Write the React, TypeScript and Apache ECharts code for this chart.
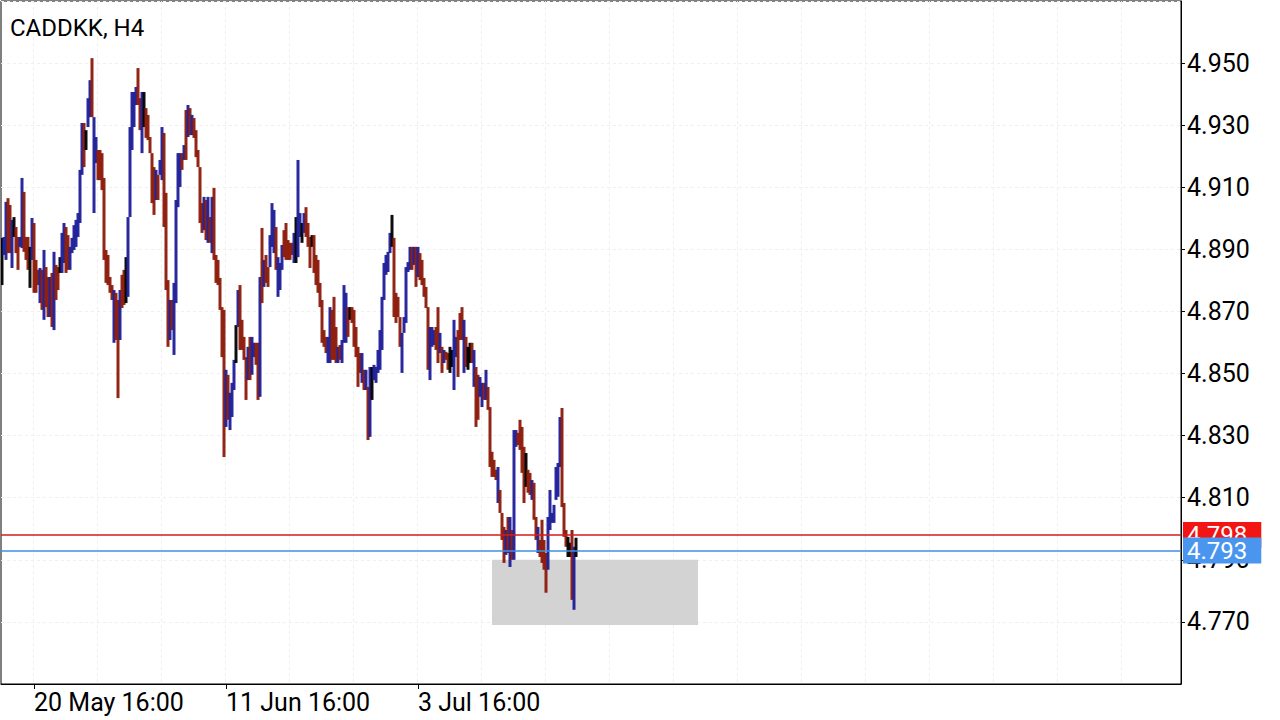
import React, { useEffect, useRef } from "react";
import * as echarts from "echarts";

// ---------- data (4-hour bars, CADDKK) ----------
const symbolTitle = "CADDKK, H4";
const firstBarUtc = Date.UTC(2020, 4, 18, 0, 0); // first bar on the chart
const slotCount = 590; // bar slots across the plot (incl. empty future)
const shownTimeLabels = ["20 May 16:00", "11 Jun 16:00", "3 Jul 16:00"];
const monthNames = ["Jan", "Feb", "Mar", "Apr", "May", "Jun", "Jul", "Aug", "Sep", "Oct", "Nov", "Dec"];

const highs = [
  4.8937, 4.8940, 4.9053, 4.9065, 4.9043, 4.8995, 4.9004, 4.8972, 4.8940, 4.8940,
  4.9130, 4.9085, 4.8940, 4.8940, 4.8908, 4.9001, 4.8985, 4.8866, 4.8834, 4.8840,
  4.8834, 4.8898, 4.8843, 4.8811, 4.8811, 4.8824, 4.8892, 4.8850, 4.8843, 4.8875,
  4.8953, 4.8985, 4.8972, 4.8946, 4.8908, 4.8937, 4.8978, 4.8995, 4.9017, 4.9156,
  4.9307, 4.9307, 4.9284, 4.9387, 4.9445, 4.9516, 4.9326, 4.9262, 4.9220, 4.9220,
  4.9210, 4.9130, 4.8898, 4.8882, 4.8811, 4.8785, 4.8769, 4.8760, 4.8737, 4.8769,
  4.8818, 4.8834, 4.8875, 4.9004, 4.9294, 4.9407, 4.9407, 4.9423, 4.9484, 4.9387,
  4.9407, 4.9407, 4.9355, 4.9333, 4.9262, 4.9210, 4.9165, 4.9156, 4.9140, 4.9188,
  4.9294, 4.9275, 4.9082, 4.8801, 4.8737, 4.8737, 4.8792, 4.9059, 4.9210, 4.9210,
  4.9210, 4.9236, 4.9349, 4.9365, 4.9355, 4.9333, 4.9323, 4.9284, 4.9220, 4.9165,
  4.9049, 4.9069, 4.9059, 4.9069, 4.9004, 4.9069, 4.9098, 4.8882, 4.8866, 4.8808,
  4.8714, 4.8705, 4.8512, 4.8496, 4.8438, 4.8470, 4.8544, 4.8656, 4.8769, 4.8785,
  4.8673, 4.8618, 4.8553, 4.8586, 4.8618, 4.8618, 4.8599, 4.8599, 4.8599, 4.8811,
  4.8969, 4.8866, 4.8882, 4.8843, 4.8946, 4.9049, 4.9027, 4.8972, 4.8875, 4.8856,
  4.8914, 4.8962, 4.8985, 4.8930, 4.8921, 4.8921, 4.8953, 4.9004, 4.9188, 4.9017,
  4.8985, 4.9017, 4.9036, 4.8985, 4.8940, 4.8946, 4.8946, 4.8882, 4.8866, 4.8792,
  4.8737, 4.8640, 4.8618, 4.8618, 4.8714, 4.8705, 4.8747, 4.8650, 4.8586, 4.8592,
  4.8608, 4.8785, 4.8760, 4.8714, 4.8714, 4.8714, 4.8705, 4.8650, 4.8586, 4.8566,
  4.8566, 4.8512, 4.8512, 4.8457, 4.8521, 4.8521, 4.8528, 4.8521, 4.8576, 4.8640,
  4.8747, 4.8856, 4.8882, 4.8892, 4.8953, 4.9011, 4.8937, 4.8760, 4.8747, 4.8682,
  4.8631, 4.8682, 4.8843, 4.8859, 4.8908, 4.8908, 4.8908, 4.8908, 4.8908, 4.8888,
  4.8866, 4.8808, 4.8779, 4.8714, 4.8650, 4.8650, 4.8640, 4.8650, 4.8714, 4.8631,
  4.8586, 4.8576, 4.8570, 4.8566, 4.8586, 4.8576, 4.8673, 4.8618, 4.8640, 4.8695,
  4.8714, 4.8673, 4.8618, 4.8586, 4.8599, 4.8599, 4.8576, 4.8521, 4.8496, 4.8489,
  4.8470, 4.8470, 4.8512, 4.8457, 4.8392, 4.8248, 4.8222, 4.8190, 4.8199, 4.8125,
  4.8051, 4.8006, 4.7996, 4.8038, 4.8038, 4.7996, 4.8318, 4.8318, 4.8309, 4.8351,
  4.8328, 4.8264, 4.8244, 4.8190, 4.8180, 4.8157, 4.8148, 4.8038, 4.8006, 4.7964,
  4.8029, 4.7964, 4.7922, 4.8038, 4.8125, 4.8051, 4.8077, 4.8199, 4.8212, 4.8360,
  4.8389, 4.8083, 4.7996, 4.7974, 4.7955, 4.7996, 4.7942, 4.7971,
];

const lows = [
  4.8785, 4.8882, 4.8866, 4.8888, 4.8888, 4.8840, 4.8940, 4.8888, 4.8834, 4.8908,
  4.8904, 4.8892, 4.8866, 4.8834, 4.8776, 4.8866, 4.8760, 4.8760, 4.8785, 4.8727,
  4.8705, 4.8673, 4.8714, 4.8682, 4.8682, 4.8650, 4.8640, 4.8737, 4.8769, 4.8824,
  4.8824, 4.8856, 4.8824, 4.8834, 4.8834, 4.8888, 4.8898, 4.8908, 4.8940, 4.8985,
  4.9140, 4.9165, 4.9220, 4.9294, 4.9326, 4.9326, 4.9017, 4.9178, 4.9123, 4.9123,
  4.9091, 4.8866, 4.8792, 4.8785, 4.8760, 4.8737, 4.8599, 4.8608, 4.8421, 4.8608,
  4.8711, 4.8721, 4.8727, 4.8747, 4.9004, 4.9220, 4.9294, 4.9365, 4.9365, 4.9284,
  4.9210, 4.9294, 4.9259, 4.9252, 4.9210, 4.9049, 4.9011, 4.9059, 4.9059, 4.9140,
  4.9123, 4.8972, 4.8769, 4.8586, 4.8608, 4.8640, 4.8560, 4.8727, 4.9036, 4.9101,
  4.9156, 4.9188, 4.9188, 4.9262, 4.9268, 4.9268, 4.9259, 4.9197, 4.9165, 4.8985,
  4.8953, 4.8962, 4.8930, 4.8921, 4.8921, 4.8888, 4.8866, 4.8792, 4.8785, 4.8705,
  4.8553, 4.8231, 4.8328, 4.8351, 4.8318, 4.8360, 4.8447, 4.8534, 4.8650, 4.8576,
  4.8576, 4.8544, 4.8415, 4.8479, 4.8479, 4.8496, 4.8553, 4.8528, 4.8415, 4.8425,
  4.8727, 4.8779, 4.8792, 4.8779, 4.8843, 4.8908, 4.8888, 4.8834, 4.8747, 4.8769,
  4.8834, 4.8875, 4.8866, 4.8866, 4.8866, 4.8882, 4.8856, 4.8856, 4.8875, 4.8940,
  4.8921, 4.8953, 4.8940, 4.8908, 4.8840, 4.8908, 4.8824, 4.8785, 4.8760, 4.8714,
  4.8599, 4.8586, 4.8566, 4.8534, 4.8534, 4.8544, 4.8544, 4.8534, 4.8534, 4.8544,
  4.8534, 4.8599, 4.8599, 4.8618, 4.8673, 4.8663, 4.8586, 4.8553, 4.8457, 4.8502,
  4.8470, 4.8447, 4.8447, 4.8286, 4.8296, 4.8415, 4.8479, 4.8470, 4.8502, 4.8512,
  4.8576, 4.8737, 4.8818, 4.8827, 4.8888, 4.8908, 4.8682, 4.8663, 4.8682, 4.8586,
  4.8502, 4.8631, 4.8663, 4.8827, 4.8834, 4.8834, 4.8850, 4.8779, 4.8811, 4.8801,
  4.8785, 4.8747, 4.8711, 4.8512, 4.8479, 4.8586, 4.8592, 4.8576, 4.8534, 4.8566,
  4.8502, 4.8534, 4.8544, 4.8512, 4.8502, 4.8521, 4.8447, 4.8553, 4.8489, 4.8608,
  4.8608, 4.8502, 4.8521, 4.8512, 4.8534, 4.8534, 4.8457, 4.8328, 4.8351, 4.8425,
  4.8392, 4.8415, 4.8415, 4.8383, 4.8199, 4.8167, 4.8167, 4.8157, 4.8083, 4.8051,
  4.7964, 4.7890, 4.7916, 4.7922, 4.7877, 4.7900, 4.7900, 4.8264, 4.8270, 4.8254,
  4.8180, 4.8083, 4.8135, 4.8116, 4.8109, 4.8093, 4.8029, 4.7964, 4.7922, 4.7909,
  4.7890, 4.7868, 4.7794, 4.7868, 4.7996, 4.8019, 4.8019, 4.8093, 4.8103, 4.8199,
  4.8070, 4.7974, 4.7942, 4.7909, 4.7909, 4.7771, 4.7739, 4.7909,
];

const opens = [
  4.8860, 4.8882, 4.8866, 4.9065, 4.9043, 4.8840, 4.8970, 4.8972, 4.8940, 4.8908,
  4.8904, 4.9085, 4.8940, 4.8940, 4.8840, 4.8866, 4.8985, 4.8866, 4.8834, 4.8727,
  4.8834, 4.8673, 4.8843, 4.8811, 4.8682, 4.8824, 4.8640, 4.8850, 4.8843, 4.8850,
  4.8824, 4.8856, 4.8972, 4.8946, 4.8834, 4.8888, 4.8898, 4.8908, 4.8940, 4.8985,
  4.9140, 4.9307, 4.9250, 4.9294, 4.9326, 4.9516, 4.9017, 4.9178, 4.9220, 4.9220,
  4.9210, 4.9130, 4.8898, 4.8882, 4.8811, 4.8785, 4.8599, 4.8760, 4.8737, 4.8608,
  4.8818, 4.8834, 4.8800, 4.8747, 4.9004, 4.9220, 4.9294, 4.9365, 4.9484, 4.9387,
  4.9210, 4.9350, 4.9355, 4.9333, 4.9262, 4.9210, 4.9165, 4.9059, 4.9140, 4.9140,
  4.9123, 4.9275, 4.9082, 4.8801, 4.8608, 4.8737, 4.8560, 4.8727, 4.9036, 4.9101,
  4.9210, 4.9188, 4.9349, 4.9262, 4.9355, 4.9268, 4.9323, 4.9284, 4.9220, 4.9165,
  4.9049, 4.8962, 4.9059, 4.8921, 4.9004, 4.8888, 4.9098, 4.8882, 4.8866, 4.8808,
  4.8714, 4.8705, 4.8328, 4.8496, 4.8318, 4.8360, 4.8447, 4.8600, 4.8650, 4.8785,
  4.8673, 4.8618, 4.8553, 4.8479, 4.8618, 4.8496, 4.8553, 4.8599, 4.8599, 4.8425,
  4.8969, 4.8779, 4.8882, 4.8843, 4.8843, 4.8908, 4.8888, 4.8972, 4.8747, 4.8769,
  4.8834, 4.8962, 4.8985, 4.8930, 4.8921, 4.8921, 4.8856, 4.8930, 4.8875, 4.8940,
  4.8950, 4.8953, 4.9036, 4.8985, 4.8940, 4.8925, 4.8946, 4.8882, 4.8866, 4.8792,
  4.8737, 4.8640, 4.8618, 4.8534, 4.8534, 4.8705, 4.8747, 4.8650, 4.8534, 4.8592,
  4.8534, 4.8599, 4.8599, 4.8714, 4.8690, 4.8714, 4.8705, 4.8650, 4.8586, 4.8566,
  4.8470, 4.8512, 4.8447, 4.8457, 4.8296, 4.8470, 4.8479, 4.8470, 4.8502, 4.8512,
  4.8576, 4.8737, 4.8818, 4.8827, 4.8888, 4.8950, 4.8937, 4.8760, 4.8747, 4.8682,
  4.8502, 4.8631, 4.8663, 4.8827, 4.8834, 4.8908, 4.8850, 4.8908, 4.8811, 4.8888,
  4.8866, 4.8808, 4.8779, 4.8714, 4.8479, 4.8586, 4.8592, 4.8650, 4.8714, 4.8566,
  4.8586, 4.8534, 4.8570, 4.8566, 4.8545, 4.8550, 4.8447, 4.8553, 4.8640, 4.8695,
  4.8714, 4.8502, 4.8618, 4.8550, 4.8565, 4.8599, 4.8457, 4.8521, 4.8496, 4.8425,
  4.8392, 4.8470, 4.8415, 4.8457, 4.8392, 4.8248, 4.8222, 4.8190, 4.8083, 4.8125,
  4.8051, 4.8006, 4.7916, 4.8038, 4.7877, 4.7996, 4.7900, 4.8264, 4.8309, 4.8351,
  4.8328, 4.8264, 4.8190, 4.8190, 4.8180, 4.8093, 4.8148, 4.8038, 4.7922, 4.7964,
  4.8029, 4.7964, 4.7922, 4.7868, 4.7996, 4.8019, 4.8019, 4.8093, 4.8103, 4.8199,
  4.8389, 4.8083, 4.7996, 4.7940, 4.7930, 4.7996, 4.7739, 4.7932,
];

const closes = [
  4.8860, 4.8940, 4.9053, 4.8888, 4.8888, 4.8995, 4.8970, 4.8888, 4.8834, 4.8940,
  4.9130, 4.8892, 4.8866, 4.8834, 4.8840, 4.9001, 4.8760, 4.8760, 4.8785, 4.8840,
  4.8705, 4.8898, 4.8714, 4.8682, 4.8811, 4.8650, 4.8892, 4.8737, 4.8769, 4.8850,
  4.8953, 4.8985, 4.8824, 4.8834, 4.8908, 4.8937, 4.8978, 4.8995, 4.9017, 4.9156,
  4.9307, 4.9165, 4.9250, 4.9387, 4.9445, 4.9326, 4.9326, 4.9262, 4.9123, 4.9123,
  4.9091, 4.8866, 4.8792, 4.8785, 4.8760, 4.8737, 4.8769, 4.8608, 4.8421, 4.8769,
  4.8711, 4.8721, 4.8800, 4.9004, 4.9294, 4.9407, 4.9407, 4.9423, 4.9365, 4.9284,
  4.9407, 4.9350, 4.9259, 4.9252, 4.9210, 4.9049, 4.9011, 4.9156, 4.9059, 4.9188,
  4.9294, 4.8972, 4.8769, 4.8586, 4.8737, 4.8640, 4.8792, 4.9059, 4.9210, 4.9210,
  4.9156, 4.9236, 4.9188, 4.9365, 4.9268, 4.9333, 4.9259, 4.9197, 4.9165, 4.8985,
  4.8953, 4.9069, 4.8930, 4.9069, 4.8921, 4.9069, 4.8866, 4.8792, 4.8785, 4.8705,
  4.8553, 4.8231, 4.8512, 4.8351, 4.8438, 4.8470, 4.8544, 4.8600, 4.8769, 4.8576,
  4.8576, 4.8544, 4.8415, 4.8586, 4.8479, 4.8618, 4.8599, 4.8528, 4.8415, 4.8811,
  4.8727, 4.8866, 4.8792, 4.8779, 4.8946, 4.9049, 4.9027, 4.8834, 4.8875, 4.8856,
  4.8914, 4.8875, 4.8866, 4.8866, 4.8866, 4.8882, 4.8953, 4.8930, 4.9188, 4.9017,
  4.8950, 4.9017, 4.8940, 4.8908, 4.8840, 4.8925, 4.8824, 4.8785, 4.8760, 4.8714,
  4.8599, 4.8586, 4.8566, 4.8618, 4.8714, 4.8544, 4.8544, 4.8534, 4.8586, 4.8544,
  4.8608, 4.8785, 4.8760, 4.8618, 4.8690, 4.8663, 4.8586, 4.8553, 4.8457, 4.8502,
  4.8566, 4.8447, 4.8512, 4.8286, 4.8521, 4.8470, 4.8528, 4.8521, 4.8576, 4.8640,
  4.8747, 4.8856, 4.8882, 4.8892, 4.8953, 4.8950, 4.8682, 4.8663, 4.8682, 4.8586,
  4.8631, 4.8682, 4.8843, 4.8859, 4.8908, 4.8834, 4.8908, 4.8779, 4.8908, 4.8801,
  4.8785, 4.8747, 4.8711, 4.8512, 4.8650, 4.8650, 4.8640, 4.8576, 4.8534, 4.8631,
  4.8502, 4.8576, 4.8544, 4.8512, 4.8545, 4.8550, 4.8673, 4.8618, 4.8489, 4.8608,
  4.8608, 4.8673, 4.8521, 4.8550, 4.8565, 4.8534, 4.8576, 4.8328, 4.8351, 4.8489,
  4.8470, 4.8415, 4.8512, 4.8383, 4.8199, 4.8167, 4.8167, 4.8157, 4.8199, 4.8051,
  4.7964, 4.7890, 4.7996, 4.7922, 4.8038, 4.7900, 4.8318, 4.8318, 4.8270, 4.8254,
  4.8180, 4.8083, 4.8190, 4.8116, 4.8109, 4.8157, 4.8029, 4.7964, 4.8006, 4.7909,
  4.7890, 4.7868, 4.7794, 4.8038, 4.8125, 4.8051, 4.8077, 4.8199, 4.8212, 4.8360,
  4.8070, 4.7974, 4.7942, 4.7940, 4.7930, 4.7771, 4.7932, 4.7932,
];

const askPrice = 4.798;
const bidPrice = 4.793;
// grey zone (bar-slot indices and prices)
const zoneStartSlot = 245;
const zoneEndSlot = 348;
const zoneTop = 4.790;
const zoneBottom = 4.769;

const yMin = 4.75;
const yMax = 4.97;
const yStep = 0.02;

// ---------- categories ----------
function buildCategories(): string[] {
  const out: string[] = [];
  let t = firstBarUtc;
  while (out.length < slotCount) {
    const d = new Date(t);
    const wd = d.getUTCDay();
    if (wd !== 0 && wd !== 6) {
      out.push(
        `${d.getUTCDate()} ${monthNames[d.getUTCMonth()]} ${String(d.getUTCHours()).padStart(2, "0")}:00`
      );
    }
    t += 4 * 3600 * 1000;
  }
  return out;
}

const BULL = "#1e1e98";
const BEAR = "#8c1a0a";
const FLAT = "#000000";
const FONT = "Roboto";

export default function App() {
  const ref = useRef<HTMLDivElement>(null);

  useEffect(() => {
    document.body.style.margin = "0";
    if (!ref.current) return;
    const chart = echarts.init(ref.current, undefined, { renderer: "svg" });
    const categories = buildCategories();
    const gridStartIdx = categories.indexOf(shownTimeLabels[0]);
    const barData = highs.map((h, i) => [i, opens[i], h, lows[i], closes[i]]);

    const priceLabel = (bg: string, txt: string) => ({
      show: true,
      position: "end",
      distance: 2,
      formatter: txt,
      color: "#fff",
      backgroundColor: bg,
      fontSize: 24,
      fontFamily: FONT,
      lineHeight: 24,
      padding: [1, 14, 1, 4],
    });

    const option: any = {
      animation: false,
      backgroundColor: "#ffffff",
      title: {
        text: symbolTitle,
        left: 10,
        top: 16,
        padding: 0,
        textStyle: { fontSize: 24, fontWeight: "normal", color: "#000", fontFamily: FONT },
      },
      grid: {
        left: 1,
        top: 1,
        right: 99,
        bottom: 36,
        show: true,
        borderColor: "#000",
        borderWidth: 1,
        backgroundColor: "transparent",
      },
      xAxis: {
        type: "category",
        data: categories,
        boundaryGap: true,
        axisLine: { show: true, lineStyle: { color: "#000", width: 1 } },
        axisTick: {
          show: true,
          alignWithLabel: true,
          length: 5,
          lineStyle: { color: "#000" },
          interval: (_i: number, v: string) => shownTimeLabels.includes(v),
        },
        axisLabel: {
          show: true,
          interval: (_i: number, v: string) => shownTimeLabels.includes(v),
          align: "left",
          margin: 6,
          fontSize: 25,
          fontFamily: FONT,
          color: "#000",
        },
        splitLine: {
          show: true,
          interval: (i: number) => i >= gridStartIdx && (i - gridStartIdx) % 32 === 0,
          lineStyle: { color: "#efefef", type: [3, 3], width: 1 },
        },
      },
      yAxis: {
        type: "value",
        position: "right",
        min: yMin,
        max: yMax,
        interval: yStep,
        axisLine: { show: true, lineStyle: { color: "#000", width: 1 } },
        axisTick: { show: true, length: 4, lineStyle: { color: "#000" } },
        axisLabel: {
          color: "#000",
          fontSize: 25,
          fontFamily: FONT,
          margin: 6,
          showMinLabel: false,
          showMaxLabel: false,
          formatter: (v: number) => v.toFixed(3),
        },
        splitLine: { show: true, lineStyle: { color: "#efefef", type: [3, 3], width: 1 } },
      },
      series: [
        {
          type: "line",
          z: 1,
          data: [],
          silent: true,
          markArea: {
            silent: true,
            itemStyle: { color: "#d3d3d3" },
            data: [[{ xAxis: zoneStartSlot, yAxis: zoneTop }, { xAxis: zoneEndSlot, yAxis: zoneBottom }]],
          },
        },
        {
          type: "custom",
          z: 3,
          data: barData,
          encode: { x: 0, y: [1, 2, 3, 4] },
          clip: true,
          silent: true,
          renderItem: (_params: any, api: any) => {
            const idx = api.value(0);
            const o = api.value(1);
            const h = api.value(2);
            const l = api.value(3);
            const c = api.value(4);
            const top = api.coord([idx, h]);
            const bot = api.coord([idx, l]);
            const w = 3;
            const color = c > o ? BULL : c < o ? BEAR : FLAT;
            return {
              type: "rect",
              shape: { x: top[0] - w / 2, y: top[1], width: w, height: Math.max(1, bot[1] - top[1]) },
              style: { fill: color, opacity: 0.95 },
            };
          },
        },
        {
          type: "line",
          z: 5,
          data: [],
          silent: true,
          markLine: {
            silent: true,
            precision: 4,
            symbol: ["none", "none"],
            data: [
              {
                yAxis: askPrice,
                lineStyle: { color: "#d21c1c", width: 1.5, type: "solid" },
                label: priceLabel("#f31414", askPrice.toFixed(3)),
              },
              {
                yAxis: bidPrice,
                lineStyle: { color: "#3c8fe6", width: 1.5, type: "solid" },
                label: priceLabel("#4a96ef", bidPrice.toFixed(3)),
              },
            ],
          },
        },
      ],
    };

    chart.setOption(option);
    return () => chart.dispose();
  }, []);

  return <div ref={ref} style={{ width: 1280, height: 720 }} />;
}
